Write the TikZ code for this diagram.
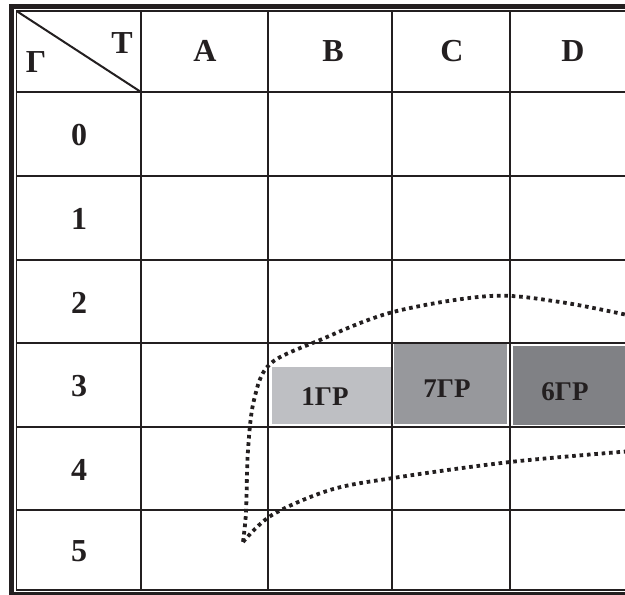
\documentclass[tikz,border=0pt]{standalone}
\usepackage{fontspec}
\setmainfont{Liberation Serif}
\definecolor{ink}{HTML}{231F20}
\definecolor{grA}{HTML}{BEBFC3}
\definecolor{grB}{HTML}{97989C}
\definecolor{grC}{HTML}{808185}
\tikzset{
  big/.style={font=\fontsize{32}{32}\selectfont\bfseries, text=ink, anchor=base, inner sep=0pt},
  small/.style={font=\fontsize{27}{27}\selectfont\bfseries, text=ink, anchor=base, inner sep=0pt},
  thinline/.style={draw=ink, line width=1.6pt},
  midline/.style={draw=ink, line width=2.5pt},
  dots/.style={draw=ink, line width=3.8pt, dash pattern=on 3.6pt off 3.8pt},
}
\begin{document}
\begin{tikzpicture}[x=1pt,y=-1pt]
\useasboundingbox (0,0) rectangle (625,595);
\clip (0,0) rectangle (625,595);
\fill[white] (0,0) rectangle (625,595);
% gray boxes
\fill[grA] (272,367) rectangle (392,424);
\fill[grB] (394,343) rectangle (507,424);
\fill[grC] (513,346) rectangle (640,425);
% grid
\foreach \y in {176,260,343,427,510} \draw[thinline] (16.5,\y) -- (640,\y);
\foreach \x in {268,392,510} \draw[thinline] (\x,11) -- (\x,590);
\draw[midline] (16.5,92) -- (640,92);
\draw[midline] (141,11) -- (141,590);
\draw[ink, line width=2pt] (16.5,11) -- (141,92);
% frame
\draw[ink, line width=1.2pt] (640,11) -- (16.5,11) -- (16.5,590) -- (640,590);
\draw[ink, line width=5pt] (640,6.5) -- (11.5,6.5) -- (11.5,594.5) -- (640,594.5);
% header texts
\node[big] (hT) at (122,53) {Т};
\node[big] (hG) at (36,72) {Г};
\node[big] (cA) at (205,61.7) {A};
\node[big] (cB) at (333,61.7) {B};
\node[big] (cC) at (452,61.7) {C};
\node[big] (cD) at (573,61.7) {D};
% row labels
\node[big] (r0) at (79,145.5) {0};
\node[big] (r1) at (79,229.5) {1};
\node[big] (r2) at (79,313) {2};
\node[big] (r3) at (79,396.5) {3};
\node[big] (r4) at (79,480) {4};
\node[big] (r5) at (79,561) {5};
% box labels
\node[small] (g1) at (325,405) {1ГР};
\node[small] (g7) at (447,397) {7ГР};
\node[small] (g6) at (565,400) {6ГР};
% dotted outline
\draw[dots] plot[smooth, tension=0.55] coordinates {(632,316) (560,302) (490,296) (393,312) (320,340) (270,364) (254,400) (248,450) (246,512) (243,542)};
\draw[dots] plot[smooth, tension=0.55] coordinates {(243,542) (272,515) (330,490) (393,478) (510,462) (632,451)};
\end{tikzpicture}
\end{document}
